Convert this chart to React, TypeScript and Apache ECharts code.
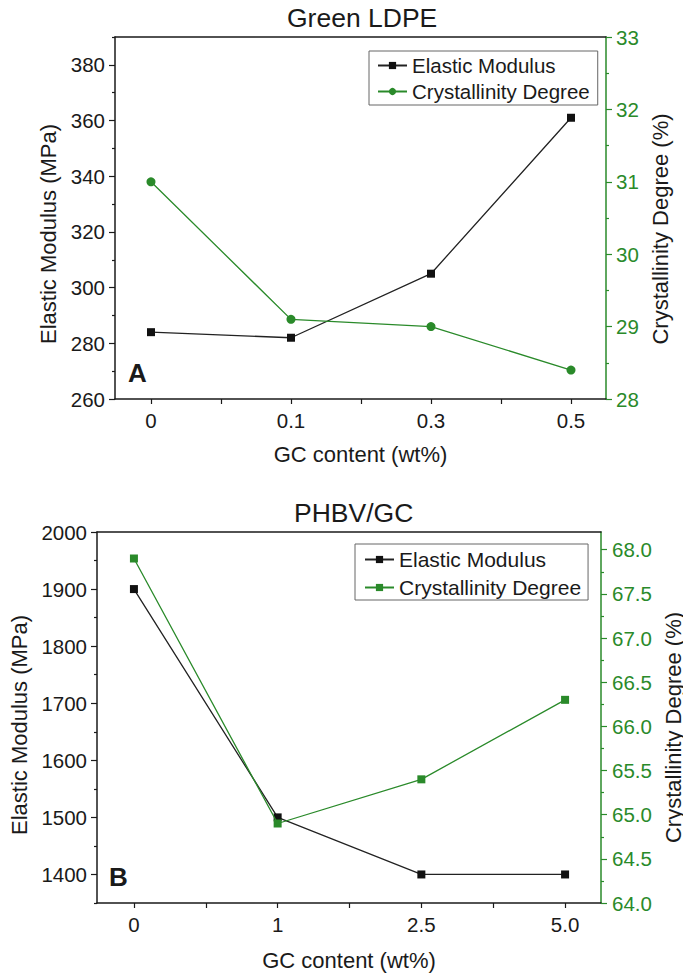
import { useEffect, useRef } from 'react';
import * as echarts from 'echarts';

const ldpeCategories = ['0', '0.1', '0.3', '0.5'];
const ldpeModulus = [284, 282, 305, 361];
const ldpeCrystallinity = [31.0, 29.1, 29.0, 28.4];

const phbvCategories = ['0', '1', '2.5', '5.0'];
const phbvModulus = [1900, 1500, 1400, 1400];
const phbvCrystallinity = [67.9, 64.9, 65.4, 66.3];

const ldpeModulusTicks = [260, 280, 300, 320, 340, 360, 380];
const ldpeModulusMinorTicks = [270, 290, 310, 330, 350, 370, 390];
const phbvModulusTicks = [1400, 1500, 1600, 1700, 1800, 1900, 2000];
const phbvModulusMinorTicks = [1350, 1450, 1550, 1650, 1750, 1850, 1950];
const phbvCrystTicks = [64, 64.5, 65, 65.5, 66, 66.5, 67, 67.5, 68];
const phbvCrystMinorTicks = [64.25, 64.75, 65.25, 65.75, 66.25, 66.75, 67.25, 67.75];
const xCategoryTicks = [0, 1, 2, 3];
const xHalfTicks = [0, 0.5, 1, 1.5, 2, 2.5, 3];

const FONT = '"Liberation Sans", Arial, sans-serif';
const BLACK = '#1a1a1a';
const GREEN = '#2a8a2a';

export default function App() {
  const ref = useRef<HTMLDivElement>(null);

  useEffect(() => {
    if (!ref.current) return;
    const chart = echarts.init(ref.current, null, { renderer: 'svg' });

    const xBottom = (gridIndex: number, cats: string[], margin: number, nameGap: number) => ({
      type: 'value',
      gridIndex,
      position: 'bottom',
      min: -0.257,
      max: 3.25,
      name: 'GC content (wt%)',
      nameLocation: 'middle',
      nameGap,
      nameTextStyle: { fontSize: 22, color: BLACK, fontFamily: FONT },
      axisLine: { onZero: false, lineStyle: { color: BLACK, width: 1.5 } },
      axisTick: { customValues: xHalfTicks, length: 5, lineStyle: { color: BLACK, width: 1.2 } },
      axisLabel: {
        customValues: xCategoryTicks,
        formatter: (v: number) => cats[Math.round(v)] ?? '',
        fontSize: 20.5,
        color: BLACK,
        fontFamily: FONT,
        margin,
      },
      splitLine: { show: false },
    });
    const xTop = (gridIndex: number) => ({
      type: 'value',
      gridIndex,
      position: 'top',
      min: -0.257,
      max: 3.25,
      axisLine: { onZero: false, lineStyle: { color: BLACK, width: 1.5 } },
      axisTick: { show: false },
      axisLabel: { show: false },
      splitLine: { show: false },
    });

    const minorAxis = (gridIndex: number, position: string, min: number, max: number, values: number[], color: string) => ({
      type: 'value',
      gridIndex,
      position,
      min,
      max,
      axisLine: { show: false, onZero: false },
      axisLabel: { show: false },
      splitLine: { show: false },
      axisTick: { customValues: values, length: 3, lineStyle: { color, width: 1.2 } },
    });

    const option: any = {
      animation: false,
      backgroundColor: '#ffffff',
      title: [
        { text: 'Green LDPE', left: 287, top: 4, padding: 0, textStyle: { fontSize: 26.5, fontWeight: 'normal', color: BLACK, fontFamily: FONT } },
        { text: 'PHBV/GC', left: 294, top: 499, padding: 0, textStyle: { fontSize: 26.5, fontWeight: 'normal', color: BLACK, fontFamily: FONT } },
        { text: 'A', left: 128, top: 360, padding: 0, textStyle: { fontSize: 26, fontWeight: 'bold', color: BLACK, fontFamily: FONT } },
        { text: 'B', left: 109, top: 864, padding: 0, textStyle: { fontSize: 26, fontWeight: 'bold', color: BLACK, fontFamily: FONT } },
      ],
      legend: [
        {
          data: ['Elastic Modulus', 'Crystallinity Degree'],
          orient: 'vertical',
          left: 369,
          top: 51,
          padding: [4, 8, 3, 8],
          itemGap: 5,
          itemWidth: 29,
          itemHeight: 9,
          borderColor: '#666',
          borderWidth: 1,
          borderRadius: 0,
          textStyle: { fontSize: 20.5, lineHeight: 20, color: BLACK, fontFamily: FONT },
        },
        {
          data: ['Elastic Modulus ', 'Crystallinity Degree '],
          formatter: (n: string) => n.trim(),
          orient: 'vertical',
          left: 355,
          top: 544,
          padding: [5, 7, 2, 9],
          itemGap: 7,
          itemWidth: 29,
          itemHeight: 9,
          borderColor: '#666',
          borderWidth: 1,
          borderRadius: 0,
          textStyle: { fontSize: 21, lineHeight: 20, color: BLACK, fontFamily: FONT },
        },
      ],
      grid: [
        { left: 115, top: 37, width: 491, height: 362, containLabel: false, outerBoundsMode: 'none' },
        { left: 97, top: 532, width: 504, height: 371, containLabel: false, outerBoundsMode: 'none' },
      ],
      xAxis: [
        xBottom(0, ldpeCategories, 11, 44),
        xTop(0),
        xBottom(1, phbvCategories, 11, 46),
        xTop(1),
      ],
      yAxis: [
        {
          type: 'value',
          gridIndex: 0,
          position: 'left',
          min: 260,
          max: 390,
          name: 'Elastic Modulus (MPa)',
          nameLocation: 'middle',
          nameRotate: 90,
          nameGap: 55,
          nameTextStyle: { fontSize: 22, color: BLACK, fontFamily: FONT, padding: [0, 32, 0, 0] },
          axisLine: { show: true, onZero: false, lineStyle: { color: BLACK, width: 1.5 } },
          axisTick: { customValues: ldpeModulusTicks, length: 6, lineStyle: { color: BLACK, width: 1.2 } },
          axisLabel: { customValues: ldpeModulusTicks, fontSize: 20.5, color: BLACK, fontFamily: FONT, margin: 10 },
          splitLine: { show: false },
        },
        {
          type: 'value',
          gridIndex: 0,
          position: 'right',
          min: 28,
          max: 33,
          interval: 1,
          name: 'Crystallinity Degree (%)',
          nameLocation: 'middle',
          nameRotate: 90,
          nameGap: 41,
          nameTextStyle: { fontSize: 22, color: BLACK, fontFamily: FONT, padding: [0, 22, 0, 0] },
          axisLine: { show: true, onZero: false, lineStyle: { color: GREEN, width: 1.5 } },
          axisTick: { length: 6, lineStyle: { color: GREEN, width: 1.2 } },
          minorTick: { show: true, splitNumber: 2, length: 3, lineStyle: { color: GREEN, width: 1.2 } },
          axisLabel: { fontSize: 20.5, color: GREEN, fontFamily: FONT, margin: 10 },
          splitLine: { show: false },
          minorSplitLine: { show: false },
        },
        minorAxis(0, 'left', 260, 390, ldpeModulusMinorTicks, BLACK),
        {
          type: 'value',
          gridIndex: 1,
          position: 'left',
          min: 1350,
          max: 2000,
          name: 'Elastic Modulus (MPa)',
          nameLocation: 'middle',
          nameRotate: 90,
          nameGap: 65,
          nameTextStyle: { fontSize: 22, color: BLACK, fontFamily: FONT, padding: [0, 15, 0, 0] },
          axisLine: { show: true, onZero: false, lineStyle: { color: BLACK, width: 1.5 } },
          axisTick: { customValues: phbvModulusTicks, length: 6, lineStyle: { color: BLACK, width: 1.2 } },
          axisLabel: {
            customValues: phbvModulusTicks,
            formatter: (v: number) => String(v),
            fontSize: 20.5,
            color: BLACK,
            fontFamily: FONT,
            margin: 10,
          },
          splitLine: { show: false },
        },
        {
          type: 'value',
          gridIndex: 1,
          position: 'right',
          min: 64,
          max: 68.2,
          name: 'Crystallinity Degree (%)',
          nameLocation: 'middle',
          nameRotate: 90,
          nameGap: 47,
          nameTextStyle: { fontSize: 22, color: BLACK, fontFamily: FONT, padding: [0, 20, 0, 0] },
          axisLine: { show: true, onZero: false, lineStyle: { color: GREEN, width: 1.5 } },
          axisTick: { customValues: phbvCrystTicks, length: 6, lineStyle: { color: GREEN, width: 1.2 } },
          axisLabel: {
            customValues: phbvCrystTicks,
            formatter: (v: number) => v.toFixed(1),
            fontSize: 20.5,
            color: GREEN,
            fontFamily: FONT,
            margin: 11,
          },
          splitLine: { show: false },
        },
        minorAxis(1, 'left', 1350, 2000, phbvModulusMinorTicks, BLACK),
        minorAxis(1, 'right', 64, 68.2, phbvCrystMinorTicks, GREEN),
      ],
      series: [
        {
          type: 'line',
          name: 'Elastic Modulus',
          xAxisIndex: 0,
          yAxisIndex: 0,
          data: ldpeModulus.map((v, i) => [i, v]),
          symbol: 'rect',
          symbolSize: 8,
          itemStyle: { color: '#111' },
          lineStyle: { color: '#222', width: 1.3 },
          z: 3,
        },
        {
          type: 'line',
          name: 'Crystallinity Degree',
          xAxisIndex: 0,
          yAxisIndex: 1,
          data: ldpeCrystallinity.map((v, i) => [i, v]),
          symbol: 'circle',
          symbolSize: 9,
          itemStyle: { color: GREEN },
          lineStyle: { color: GREEN, width: 1.3 },
          z: 3,
        },
        {
          type: 'line',
          name: 'Elastic Modulus ',
          xAxisIndex: 2,
          yAxisIndex: 3,
          data: phbvModulus.map((v, i) => [i, v]),
          symbol: 'rect',
          symbolSize: 8,
          itemStyle: { color: '#111' },
          lineStyle: { color: '#222', width: 1.3 },
          z: 3,
        },
        {
          type: 'line',
          name: 'Crystallinity Degree ',
          xAxisIndex: 2,
          yAxisIndex: 4,
          data: phbvCrystallinity.map((v, i) => [i, v]),
          symbol: 'rect',
          symbolSize: 8,
          itemStyle: { color: GREEN },
          lineStyle: { color: GREEN, width: 1.3 },
          z: 4,
        },
      ],
    };

    chart.setOption(option);
    return () => chart.dispose();
  }, []);

  return (
    <div
      ref={ref}
      style={{ position: 'absolute', left: 0, top: 0, width: 683, height: 973, background: '#fff' }}
    />
  );
}
